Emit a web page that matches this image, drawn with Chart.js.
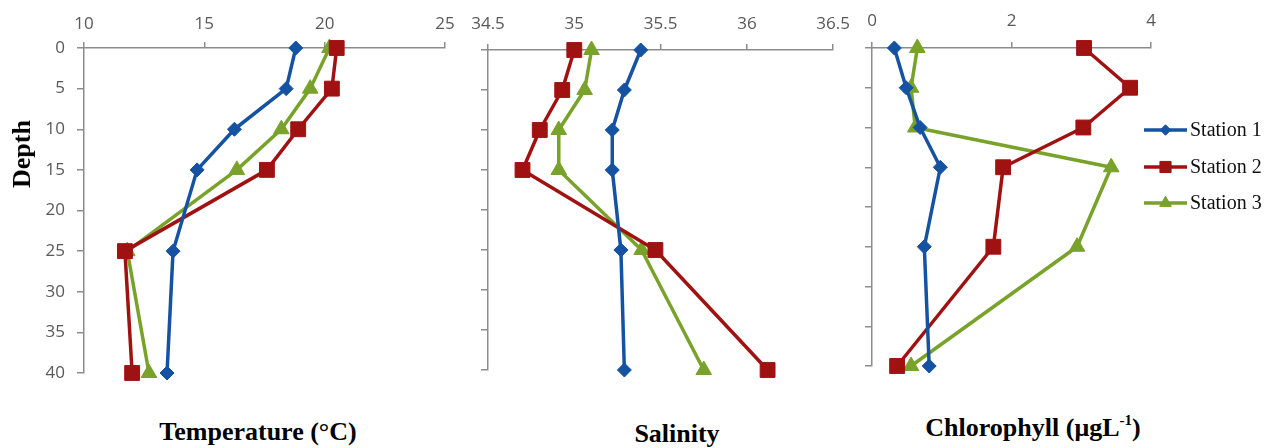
<!DOCTYPE html>
<html>
<head>
<meta charset="utf-8">
<script src="https://cdn.jsdelivr.net/npm/chart.js@4.4.1/dist/chart.umd.min.js"></script>
<style>
  body { margin: 0; background: #fff; width: 1277px; height: 448px; position: relative; overflow: hidden; }
  canvas { position: absolute; top: 0; }
  .title {
    position: absolute;
    font-family: "Liberation Serif", "Times New Roman", serif;
    font-weight: bold;
    font-size: 26px;
    line-height: 26px;
    white-space: nowrap;
    color: #000;
  }
  .title sup { font-size: 15px; line-height: 0; vertical-align: 11px; }
</style>
</head>
<body>
<canvas id="chartTemp" width="470" height="400" style="left:0px"></canvas>
<canvas id="chartSal" width="420" height="400" style="left:440px"></canvas>
<canvas id="chartChl" width="437" height="400" style="left:840px"></canvas>

<div class="title" style="left:22px;top:154px;transform:translate(-50%,-50%) rotate(-90deg)">Depth</div>
<div class="title" style="left:258px;top:419px;transform:translateX(-50%)">Temperature (°C)</div>
<div class="title" style="left:677px;top:421px;transform:translateX(-50%)">Salinity</div>
<div class="title" style="left:1033px;top:415px;transform:translateX(-50%)">Chlorophyll (μgL<sup>-1</sup>)</div>

<script>
// data
const depths = [0, 5, 10, 15, 25, 40];
const stations = ["Station 1", "Station 2", "Station 3"];

const tempS1 = [18.8, 18.4, 16.25, 14.7, 13.7, 13.45];
const tempS2 = [20.5, 20.3, 18.9, 17.6, 11.7, 12.0];
const tempS3 = [20.2, 19.4, 18.2, 16.35, 11.8, 12.7];

const salS1 = [35.385, 35.29, 35.22, 35.22, 35.27, 35.29];
const salS2 = [35.0, 34.93, 34.8, 34.7, 35.47, 36.12];
const salS3 = [35.1, 35.06, 34.91, 34.91, 35.39, 35.75];

const chlS1 = [0.32, 0.49, 0.69, 0.98, 0.75, 0.82];
const chlS2 = [3.04, 3.7, 3.03, 1.88, 1.74, 0.36];
const chlS3 = [0.65, 0.56, 0.62, 3.43, 2.94, 0.56];

const depthTicks = [0, 5, 10, 15, 20, 25, 30, 35, 40];
const tempTicks = [10, 15, 20, 25];
const salTicks = [34.5, 35, 35.5, 36, 36.5];
const chlTicks = [0, 2, 4];

// styles
const colors = ["#1552a2", "#a01212", "#78a22a"];
const markers = [
    { style: "rectRot", radius: 7 },
    { style: "rect", radius: 10.5 },
    { style: "triangle", radius: 9 },
];
const axisGrey = "#8c8c8c";

Chart.defaults.font.family = "'Open Sans', sans-serif";
Chart.defaults.font.size = 17;
Chart.defaults.color = "#595959";

const legendPlugin = {
    id: "stationLegend",
    afterDraw(chart) {
        const ctx = chart.ctx;
        const rows = [130, 167, 203];
        ctx.save();
        chart.data.datasets.forEach((ds, i) => {
            const y = rows[i];
            ctx.strokeStyle = ds.borderColor;
            ctx.lineWidth = 3.5;
            ctx.beginPath();
            ctx.moveTo(304, y);
            ctx.lineTo(347, y);
            ctx.stroke();
            ctx.fillStyle = ds.borderColor;
            ctx.lineWidth = 1;
            Chart.helpers.drawPoint(ctx, {
                pointStyle: ds.pointStyle,
                radius: ds.pointRadius * 0.75,
                rotation: 0,
                borderWidth: 1,
            }, 325.5, y);
            ctx.fillStyle = "#111";
            ctx.font = "20px 'Liberation Serif', 'Times New Roman', serif";
            ctx.textBaseline = "middle";
            ctx.textAlign = "left";
            ctx.fillText(ds.label, 350, y + 1);
        });
        ctx.restore();
    },
};

function makeChart(id, series, xTicks, box, xPad, showDepthLabels, withLegend) {
    const canvas = document.getElementById(id);
    const datasets = series.map((vals, i) => ({
        label: stations[i],
        data: vals.map((v, k) => ({ x: v, y: depths[k] })),
        showLine: true,
        borderColor: colors[i],
        backgroundColor: colors[i],
        borderWidth: 3.5,
        borderJoinStyle: "round",
        pointStyle: markers[i].style,
        pointRadius: markers[i].radius,
        pointBorderWidth: 1,
        clip: false,
    }));

    return new Chart(canvas, {
        type: "scatter",
        data: { datasets },
        plugins: withLegend ? [legendPlugin] : [],
        options: {
            responsive: false,
            animation: false,
            layout: {
                padding: {
                    left: 0,
                    top: 0,
                    right: canvas.width - box.right,
                    bottom: canvas.height - box.bottom,
                },
            },
            plugins: {
                legend: { display: false },
                tooltip: { enabled: false },
            },
            scales: {
                x: {
                    type: "linear",
                    position: "top",
                    min: xTicks[0],
                    max: xTicks[xTicks.length - 1],
                    afterBuildTicks: (scale) => {
                        scale.ticks = xTicks.map((v) => ({ value: v }));
                    },
                    afterFit: (scale) => {
                        scale.height = box.top;
                    },
                    ticks: { padding: xPad, callback: (v) => String(v) },
                    grid: {
                        drawOnChartArea: false,
                        drawTicks: true,
                        tickLength: 6,
                        color: axisGrey,
                        lineWidth: 1.5,
                    },
                    border: { color: axisGrey, width: 1.5 },
                },
                y: {
                    type: "linear",
                    reverse: true,
                    min: depthTicks[0],
                    max: depthTicks[depthTicks.length - 1],
                    afterBuildTicks: (scale) => {
                        scale.ticks = depthTicks.map((v) => ({ value: v }));
                    },
                    afterFit: (scale) => {
                        scale.width = box.left;
                    },
                    ticks: { display: showDepthLabels, padding: 12, callback: (v) => String(v) },
                    grid: {
                        drawOnChartArea: false,
                        drawTicks: true,
                        tickLength: 7,
                        color: axisGrey,
                        lineWidth: 1.5,
                    },
                    border: { color: axisGrey, width: 1.5 },
                },
            },
        },
    });
}

makeChart("chartTemp", [tempS1, tempS2, tempS3], tempTicks,
    { left: 84, top: 48, right: 445, bottom: 373 }, 8, true, false);
makeChart("chartSal", [salS1, salS2, salS3], salTicks,
    { left: 48, top: 50, right: 396, bottom: 370 }, 10, false, false);
makeChart("chartChl", [chlS1, chlS2, chlS3], chlTicks,
    { left: 32, top: 48, right: 311, bottom: 366 }, 11, false, true);
</script>
</body>
</html>
